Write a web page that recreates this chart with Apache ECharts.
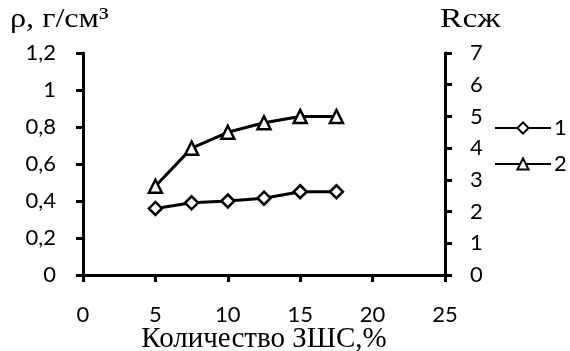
<!DOCTYPE html>
<html>
<head>
<meta charset="utf-8">
<script src="https://cdn.jsdelivr.net/npm/echarts@6/dist/echarts.min.js"></script>
<style>
html,body{margin:0;padding:0;background:#fff;}
#c{width:570px;height:351px;}
</style>
</head>
<body>
<div id="c"></div>
<script>
const xValues = [5, 7.5, 10, 12.5, 15, 17.5];
const series1 = [0.36, 0.39, 0.40, 0.415, 0.45, 0.45];   // density, left axis
const series2 = [2.8, 4.0, 4.5, 4.8, 5.0, 5.0];          // Rсж, right axis
const seriesNames = ['1', '2'];
const leftAxisName = 'ρ, г/см³';
const rightAxisName = 'Rсж';
const xAxisName = 'Количество ЗШС,%';

const fmt = v => String(+(+v).toFixed(1)).replace('.', ',');
const tickFont = {fontFamily: 'Lato', fontSize: 22, color: '#000'};
const serif = 'Liberation Serif';
const axisLine = {show: true, onZero: false, lineStyle: {color: '#000', width: 3}};
const axisTick = {show: true, inside: false, length: 7, lineStyle: {color: '#000', width: 3}};

const chart = echarts.init(document.getElementById('c'), null, {renderer: 'canvas'});
chart.setOption({
  backgroundColor: '#fff',
  animation: false,
  grid: {left: 83, right: 125, top: 53, bottom: 76, containLabel: false, outerBoundsMode: 'none'},
  legend: {
    orient: 'vertical', left: 494, top: 117,
    itemWidth: 56, itemHeight: 14, itemGap: 14,
    padding: 0,
    textStyle: Object.assign({padding: [0, 0, 0, -2]}, tickFont),
    data: seriesNames
  },
  xAxis: {
    type: 'value', min: 0, max: 25, interval: 5,
    axisLine, axisTick,
    splitLine: {show: false},
    axisLabel: Object.assign({margin: 29}, tickFont),
    name: xAxisName, nameLocation: 'middle', nameGap: 50, nameMoveOverlap: false,
    nameTextStyle: {fontFamily: serif, fontSize: 29, color: '#000'}
  },
  yAxis: [
    {
      type: 'value', min: 0, max: 1.2, interval: 0.2, position: 'left',
      axisLine, axisTick, splitLine: {show: false},
      axisLabel: Object.assign({margin: 27, formatter: fmt}, tickFont)
    },
    {
      type: 'value', min: 0, max: 7, interval: 1, position: 'right',
      axisLine, axisTick, splitLine: {show: false},
      axisLabel: Object.assign({margin: 25, formatter: fmt}, tickFont)
    }
  ],
  graphic: [
    {type: 'text', left: 10, top: 6, scaleX: 1.15, style: {text: leftAxisName, font: '28px "Liberation Serif"', fill: '#000'}},
    {type: 'text', left: 440, top: 6, scaleX: 1.2, style: {text: rightAxisName, font: '28px "Liberation Serif"', fill: '#000'}}
  ],
  series: [
    {
      name: seriesNames[0], type: 'line', yAxisIndex: 0,
      data: xValues.map((x, i) => [x, series1[i]]),
      symbol: 'diamond', symbolSize: 13,
      lineStyle: {color: '#000', width: 3},
      itemStyle: {color: '#fff', borderColor: '#000', borderWidth: 2.5}
    },
    {
      name: seriesNames[1], type: 'line', yAxisIndex: 1,
      data: xValues.map((x, i) => [x, series2[i]]),
      symbol: 'triangle', symbolSize: 13,
      lineStyle: {color: '#000', width: 3},
      itemStyle: {color: '#fff', borderColor: '#000', borderWidth: 2.5}
    }
  ]
});
</script>
</body>
</html>
